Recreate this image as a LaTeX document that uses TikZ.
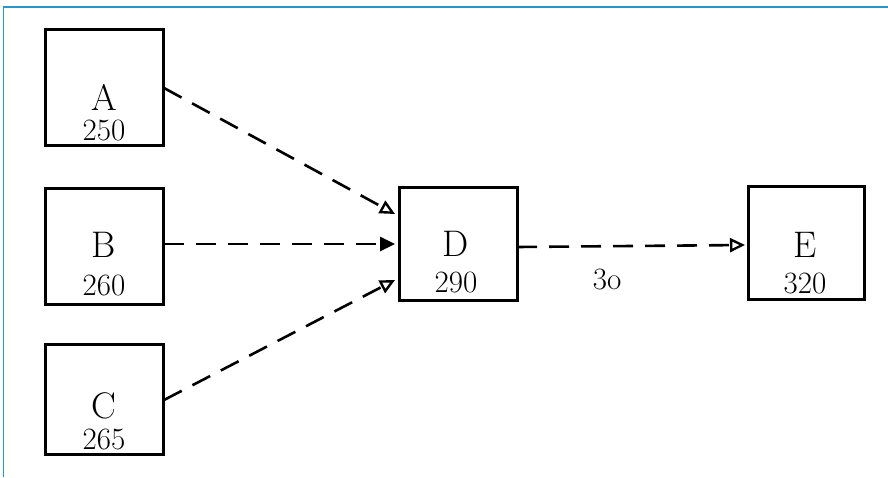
\documentclass[tikz,border=0pt]{standalone}
\usepackage{fontspec}
\usetikzlibrary{arrows.meta}
\begin{document}
\begin{tikzpicture}[x=1pt,y=-1pt,
  actbox/.style={draw=black,line width=3pt,minimum width=118pt,minimum height=116pt,inner sep=0pt,anchor=north west},
  lbl/.style={inner sep=0pt,font=\fontsize{37}{37}\selectfont},
  num/.style={inner sep=0pt,font=\fontsize{31}{31}\selectfont},
  conn/.style={line width=2.6pt,dash pattern=on 20pt off 12pt,-{Triangle[open,length=15pt,width=14pt,line width=2.4pt]}},
  frame/.style={draw={rgb,255:red,40;green,150;blue,200},line width=1.4pt}]
\useasboundingbox (0,0) rectangle (888,477);
\draw[frame] (3.5,477) -- (3.5,7) -- (888,7);
\node[actbox] (A) at (44,28) {};
\node[actbox] (B) at (44,187) {};
\node[actbox,minimum height=110pt] (C) at (44,343) {};
\node[actbox,minimum height=113pt] (D) at (398,186) {};
\node[actbox,minimum width=116pt,minimum height=113pt] (E) at (747,185) {};
\node[lbl] (la) at (104,97) {A};
\node[num] (na) at (104,130) {250};
\node[lbl] (lb) at (104,245) {B};
\node[num] (nb) at (104,285) {260};
\node[lbl] (lc) at (104,406) {C};
\node[num] (nc) at (104,439) {265};
\node[lbl] (ld) at (456,244) {D};
\node[num] (nd) at (456,282) {290};
\node[lbl] (le) at (805,245) {E};
\node[num] (ne) at (805,283) {320};
\coordinate (a1) at (164,88);
\coordinate (a2) at (395,214);
\coordinate (b1) at (164,244);
\coordinate (b2) at (395,244);
\coordinate (c1) at (164,400);
\coordinate (c2) at (395,280);
\coordinate (d1) at (517,247);
\coordinate (e2) at (745,245);
\draw[conn] (a1) -- (a2);
\draw[conn,-{Triangle[length=15pt,width=14pt]}] (b1) -- (b2);
\draw[conn] (c1) -- (c2);
\draw[conn] (d1) -- (e2);
\node[num] (lab) at (607,279) {3o};
\end{tikzpicture}
\end{document}
